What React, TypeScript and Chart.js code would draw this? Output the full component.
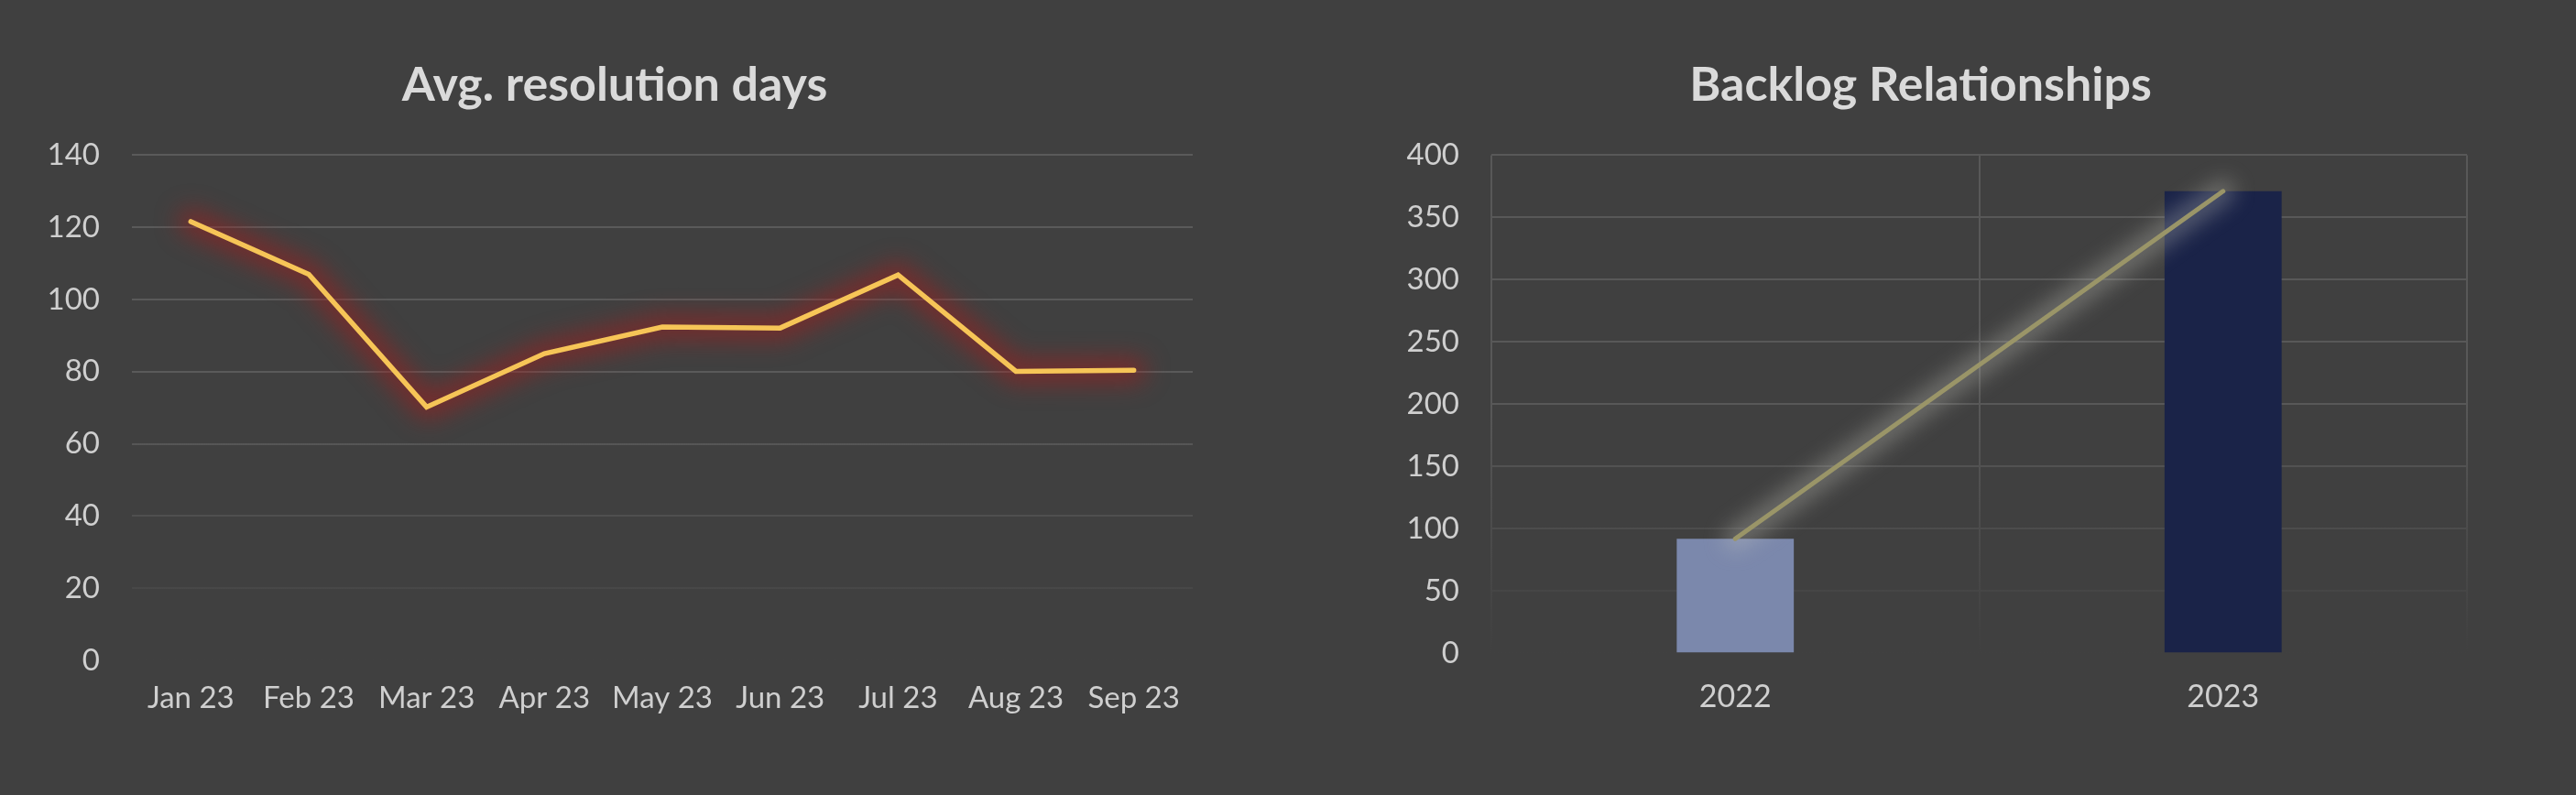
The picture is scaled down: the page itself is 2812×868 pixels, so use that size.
import React, { useEffect, useRef } from "react";
import { Chart, registerables } from "chart.js";

Chart.register(...registerables);

// ---- Data ----
const months = ["Jan 23", "Feb 23", "Mar 23", "Apr 23", "May 23", "Jun 23", "Jul 23", "Aug 23", "Sep 23"];
const avgResolutionDays = [121.6, 107, 70.2, 85, 92.4, 92.1, 106.8, 80.1, 80.4];

const years = ["2022", "2023"];
const backlogRelationships = [92, 371];

const leftTitle = "Avg. resolution days";
const rightTitle = "Backlog Relationships";

// ---- Styles ----
const BG = "#404040";
const FONT = "Lato, 'Noto Sans', sans-serif";
const TICK_COLOR = "#cfcfcf";
const TITLE_COLOR = "#dadada";

const fadeGrid = (top: string, mid: number, bottom: string) => (ctx: any) => {
  const chart = ctx.chart;
  const area = chart.chartArea;
  if (!area) return top;
  const g = chart.ctx.createLinearGradient(0, area.top, 0, area.bottom);
  g.addColorStop(0, top);
  g.addColorStop(mid, top);
  g.addColorStop(1, bottom);
  return g;
};

// soft glow drawn underneath a line dataset, following the points the library laid out
const glowPlugin = {
  id: "glow",
  beforeDatasetDraw(chart: any, args: any) {
    const ds = chart.data.datasets[args.index];
    if (!ds.glowColor) return;
    const meta = chart.getDatasetMeta(args.index);
    const pts = meta.data;
    if (!pts || pts.length < 2) return;
    const c = chart.ctx;
    c.save();
    c.filter = `blur(${ds.glowBlur}px)`;
    c.strokeStyle = ds.glowColor;
    c.lineWidth = ds.glowWidth;
    c.lineCap = "round";
    c.lineJoin = "round";
    c.beginPath();
    c.moveTo(pts[0].x, pts[0].y);
    for (let i = 1; i < pts.length; i++) c.lineTo(pts[i].x, pts[i].y);
    c.stroke();
    c.restore();
  },
};

function LeftChart() {
  const ref = useRef<HTMLCanvasElement>(null);
  useEffect(() => {
    const chart = new Chart(ref.current as HTMLCanvasElement, {
      type: "line",
      data: {
        labels: months,
        datasets: [
          {
            data: avgResolutionDays,
            borderColor: "#f6c557",
            borderWidth: 5.5,
            pointRadius: 0,
            tension: 0,
            borderCapStyle: "round",
            borderJoinStyle: "miter",
            glowColor: "rgba(165, 28, 28, 0.55)",
            glowWidth: 28,
            glowBlur: 13,
          } as any,
        ],
      },
      plugins: [glowPlugin],
      options: {
        responsive: false,
        animation: false,
        layout: { padding: { left: 0, right: 24, top: 0, bottom: 0 } },
        plugins: {
          legend: { display: false },
          tooltip: { enabled: false },
          title: {
            display: true,
            text: leftTitle,
            color: TITLE_COLOR,
            font: { family: FONT, size: 52, weight: "bold", lineHeight: 1.2 },
            padding: { top: 62, bottom: 45 },
          },
        },
        scales: {
          x: {
            type: "category",
            offset: true,
            grid: { display: false, drawTicks: false },
            border: { display: false },
            ticks: {
              color: TICK_COLOR,
              font: { family: FONT, size: 33 },
              padding: 22,
              maxRotation: 0,
              autoSkip: false,
            },
            afterFit: (s: any) => {
              s.height = 147;
            },
          },
          y: {
            min: 0,
            max: 140,
            grid: {
              color: fadeGrid("#5a5a5a", 0.5, "#404040"),
              lineWidth: 2,
              drawTicks: false,
            },
            border: { display: false },
            ticks: {
              stepSize: 20,
              color: TICK_COLOR,
              font: { family: FONT, size: 33 },
              padding: 35,
            },
            afterFit: (s: any) => {
              s.width = 104;
            },
          },
        },
      },
    });
    return () => chart.destroy();
  }, []);
  return <canvas ref={ref} width={1286} height={868} style={{ position: "absolute", left: 40, top: 0, width: 1286, height: 868 }} />;
}

function RightChart() {
  const ref = useRef<HTMLCanvasElement>(null);
  useEffect(() => {
    const chart = new Chart(ref.current as HTMLCanvasElement, {
      type: "bar",
      data: {
        labels: years,
        datasets: [
          {
            type: "line",
            data: backlogRelationships,
            borderColor: "#9a9568",
            borderWidth: 5,
            pointRadius: 0,
            borderCapStyle: "round",
            order: 0,
            glowColor: "rgba(205, 205, 195, 0.32)",
            glowWidth: 26,
            glowBlur: 11,
          } as any,
          {
            type: "bar",
            data: backlogRelationships,
            backgroundColor: ["#7b88ac", "#1a2348"],
            borderWidth: 0,
            categoryPercentage: 1,
            barPercentage: 0.24,
            order: 1,
          } as any,
        ],
      },
      plugins: [glowPlugin],
      options: {
        responsive: false,
        animation: false,
        layout: { padding: { left: 0, right: 51, top: 0, bottom: 0 } },
        plugins: {
          legend: { display: false },
          tooltip: { enabled: false },
          title: {
            display: true,
            text: rightTitle,
            color: TITLE_COLOR,
            font: { family: FONT, size: 52, weight: "bold", lineHeight: 1.2 },
            padding: { top: 62, bottom: 45 },
          },
        },
        scales: {
          x: {
            type: "category",
            offset: true,
            grid: {
              display: true,
              offset: true,
              color: fadeGrid("#585858", 0.5, "#404040"),
              lineWidth: 2,
              drawTicks: false,
            },
            border: { display: false },
            ticks: {
              color: TICK_COLOR,
              font: { family: FONT, size: 34 },
              padding: 27,
              maxRotation: 0,
              autoSkip: false,
            },
            afterFit: (s: any) => {
              s.height = 154.7;
            },
          },
          y: {
            min: 0,
            max: 400,
            grid: {
              color: fadeGrid("#585858", 0.5, "#404040"),
              lineWidth: 2,
              drawTicks: false,
            },
            border: { display: false },
            ticks: {
              stepSize: 50,
              color: TICK_COLOR,
              font: { family: FONT, size: 33 },
              padding: 35,
            },
            afterFit: (s: any) => {
              s.width = 128;
            },
          },
        },
      },
    });
    return () => chart.destroy();
  }, []);
  return <canvas ref={ref} width={1244} height={868} style={{ position: "absolute", left: 1500, top: 0, width: 1244, height: 868 }} />;
}

export default function App() {
  return (
    <div style={{ position: "fixed", inset: 0, background: BG, overflow: "hidden" }}>
      <LeftChart />
      <RightChart />
    </div>
  );
}
